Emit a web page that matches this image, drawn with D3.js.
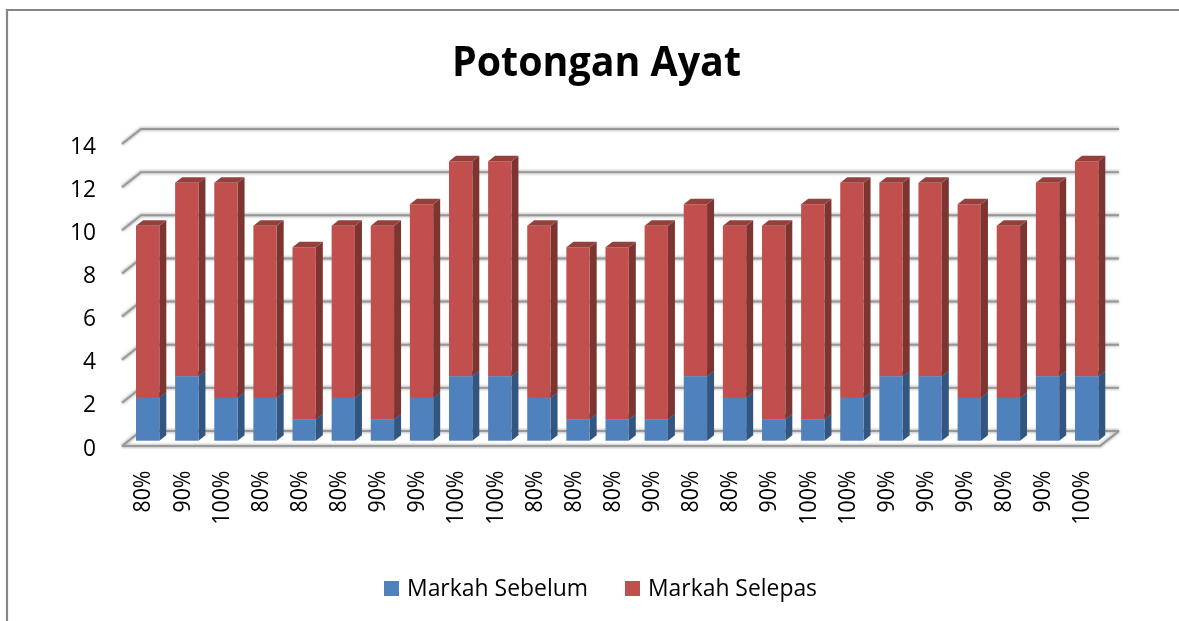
<!DOCTYPE html>
<html><head><meta charset="utf-8">
<script src="https://cdn.jsdelivr.net/npm/d3@7/dist/d3.min.js"></script>
<style>html,body{margin:0;padding:0;background:#fff}svg{display:block}text{font-family:"Open Sans",sans-serif;fill:#000}</style>
</head><body><svg id="c" width="1179" height="621"></svg>
<script>
const title = "Potongan Ayat";
const categories = ["80%","90%","100%","80%","80%","80%","90%","90%","100%","100%","80%","80%","80%","90%","80%","80%","90%","100%","100%","90%","90%","90%","80%","90%","100%"];
const markahSebelum = [2,3,2,2,1,2,1,2,3,3,2,1,1,1,3,2,1,1,2,3,3,2,2,3,3];
const markahSelepas = [8,9,10,8,8,8,9,9,10,10,8,8,8,9,8,8,9,10,10,9,9,9,8,9,10];
const yTicks = [0,2,4,6,8,10,12,14];
const seriesNames = ["Markah Sebelum","Markah Selepas"];
const seriesColors = [
  {front:"#4f81bd",side:"#33567f",top:"#3f6797"},
  {front:"#c0504d",side:"#7d3432",top:"#94403d"}
];

const svg = d3.select("#c");
const defs = svg.append("defs");
defs.append("filter").attr("id","soft").append("feGaussianBlur").attr("stdDeviation",0.5);
defs.append("filter").attr("id","gridsoft").append("feGaussianBlur").attr("stdDeviation",0.5);
defs.append("filter").attr("id","gridhalo").append("feGaussianBlur").attr("stdDeviation",1.2);
defs.append("filter").attr("id","textsoft").append("feGaussianBlur").attr("stdDeviation",0.3);

// frame
svg.append("path").attr("d","M7 621V10H1179").attr("fill","none").attr("stroke","#868686").attr("stroke-width",2.2);

const textG = svg.append("g").attr("filter","url(#textsoft)");
textG.append("text").attr("x",596.5).attr("y",76).attr("text-anchor","middle")
  .attr("font-size",41).attr("font-weight",700)
  .attr("textLength",289).attr("lengthAdjust","spacingAndGlyphs").text(title);

const dx = 19, dy = -15;          // wall depth
const bdx = 7, bdy = -5.5;        // bar depth
const y = d3.scaleLinear().domain([0,14]).range([446,144]);
const barY = d3.scaleLinear().domain([0,14]).range([440.7,139.7]);
const x = d3.scaleBand().domain(d3.range(categories.length)).range([136,1098.3]).paddingInner(0.404).paddingOuter(0);
const xMin = 122, xMax = 1100;

// gridlines: a soft halo under a darker core
const line = d3.line();
[["url(#gridhalo)","#c4c4c4",4],["url(#gridsoft)","#989898",1.9]].forEach(([f,col,w])=>{
  const g = svg.append("g").attr("filter",f).attr("fill","none").attr("stroke",col).attr("stroke-width",w);
  yTicks.forEach(t=>{
    const yy = y(t);
    g.append("path").attr("d",line([[xMin,yy],[xMin+dx,yy+dy],[xMax+dx,yy+dy]]));
  });
  g.append("path").attr("d",line([[xMin,y(0)],[xMax,y(0)],[xMax+dx,y(0)+dy]]));
});

// y tick labels
textG.append("g").selectAll("text").data(yTicks).join("text")
  .attr("transform",d=>`translate(96,${y(d)+9.5}) scale(0.95,1)`)
  .attr("text-anchor","end").attr("font-size",24).text(d=>d);

// bars
const barG = svg.append("g").attr("filter","url(#soft)");
function box(i,v0,v1,c){
  const x0 = x(i), x1 = x0 + x.bandwidth(), yb = barY(v0), yt = barY(v1);
  barG.append("path").attr("fill",c.side).attr("d",line([[x1,yb],[x1+bdx,yb+bdy],[x1+bdx,yt+bdy],[x1,yt]])+"Z");
  barG.append("path").attr("fill",c.top).attr("d",line([[x0,yt],[x0+bdx,yt+bdy],[x1+bdx,yt+bdy],[x1,yt]])+"Z");
  barG.append("rect").attr("x",x0).attr("y",yt).attr("width",x1-x0).attr("height",yb-yt).attr("fill",c.front);
}
categories.forEach((c,i)=>{
  box(i,0,markahSebelum[i],seriesColors[0]);
  box(i,markahSebelum[i],markahSebelum[i]+markahSelepas[i],seriesColors[1]);
});

// category labels
textG.append("g").selectAll("text").data(categories).join("text")
  .attr("transform",(d,i)=>`translate(${x(i)+x.bandwidth()/2+2.8},470.5) rotate(-90) scale(0.89,1)`)
  .attr("text-anchor","end").attr("font-size",24).text(d=>d);

// legend
const lx = [384,625];
const legendLen = [181,169];
seriesNames.forEach((n,i)=>{
  svg.append("rect").attr("x",lx[i]).attr("y",581).attr("width",15).attr("height",15).attr("fill",seriesColors[i].front);
  textG.append("text").attr("x",lx[i]+23).attr("y",596).attr("font-size",23)
    .attr("textLength",legendLen[i]).attr("lengthAdjust","spacingAndGlyphs").text(n);
});
</script></body></html>
